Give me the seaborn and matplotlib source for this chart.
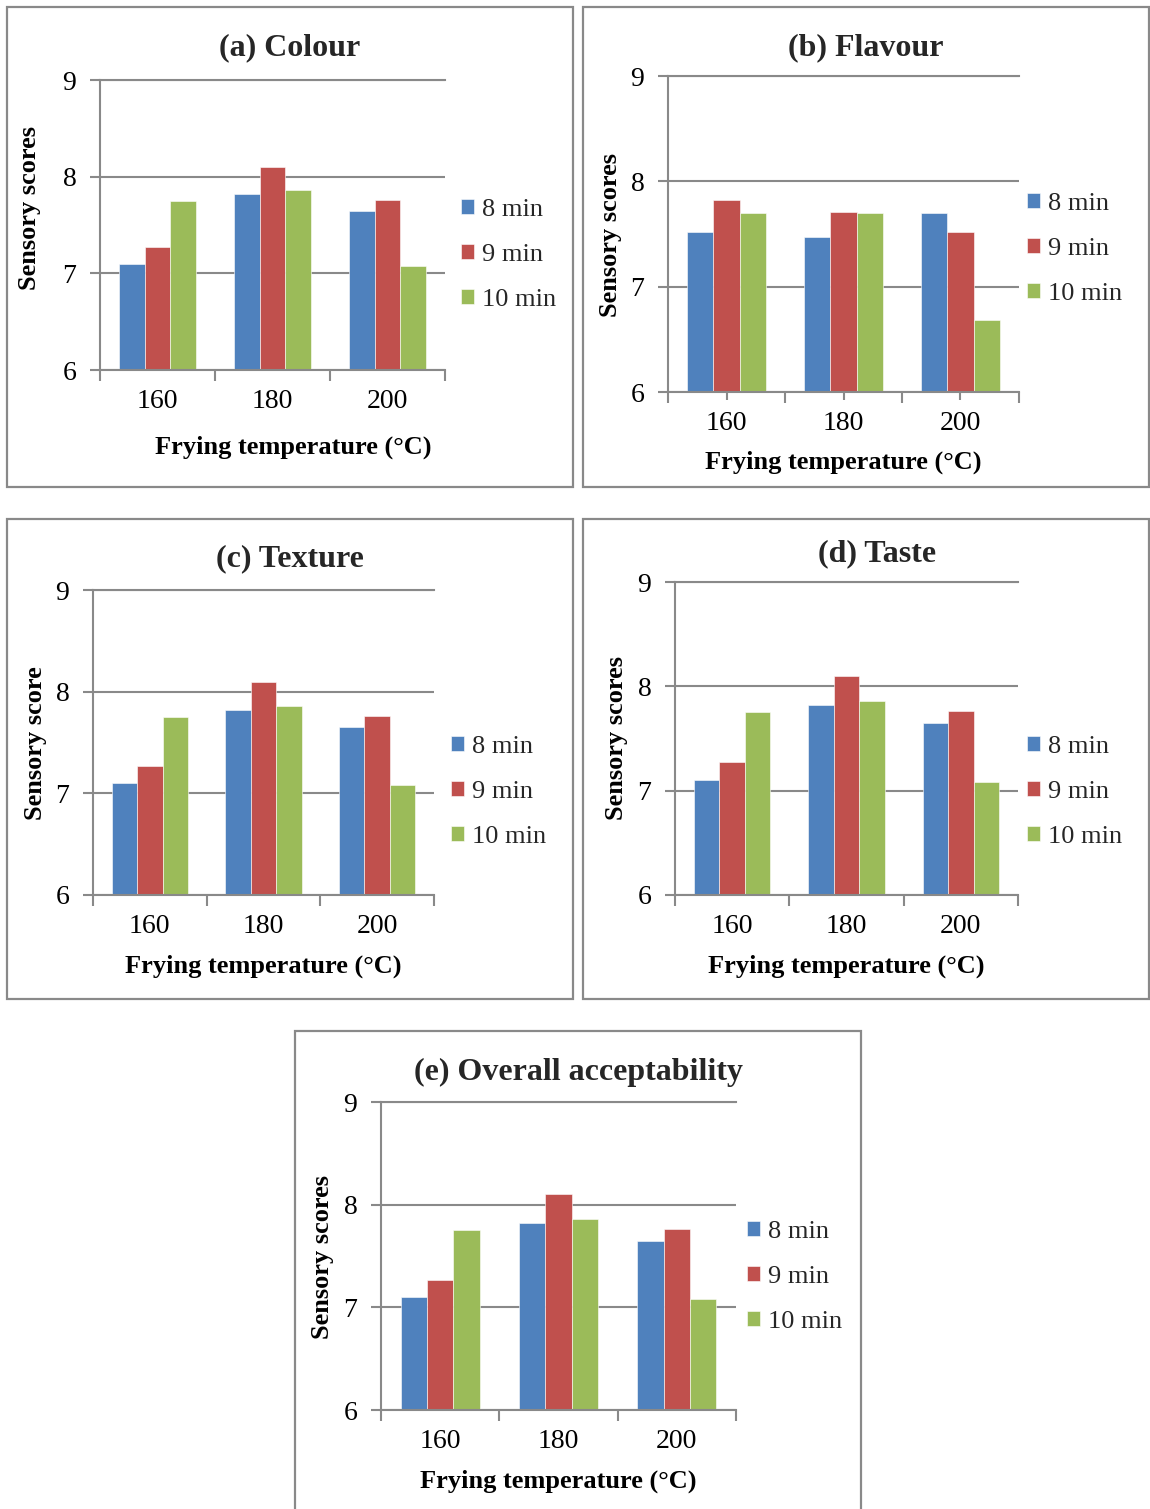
import matplotlib
matplotlib.use("Agg")
import matplotlib.pyplot as plt
from matplotlib.patches import Rectangle
from matplotlib.ticker import FixedLocator
import pandas as pd
import seaborn as sns

# Frying conditions
temperatures = ["160", "180", "200"]
times = ["8 min", "9 min", "10 min"]

# Mean sensory scores per frying time, ordered by temperature
colour_8 = [7.10, 7.82, 7.65]
colour_9 = [7.27, 8.10, 7.76]
colour_10 = [7.75, 7.86, 7.08]

flavour_8 = [7.52, 7.47, 7.70]
flavour_9 = [7.82, 7.71, 7.52]
flavour_10 = [7.70, 7.70, 6.68]

texture_8 = [7.10, 7.82, 7.65]
texture_9 = [7.27, 8.10, 7.76]
texture_10 = [7.75, 7.86, 7.08]

taste_8 = [7.10, 7.82, 7.65]
taste_9 = [7.27, 8.10, 7.76]
taste_10 = [7.75, 7.86, 7.08]

overall_8 = [7.10, 7.82, 7.65]
overall_9 = [7.27, 8.10, 7.76]
overall_10 = [7.75, 7.86, 7.08]

y_ticks = [6, 7, 8, 9]

palette = ["#4F81BD", "#C0504D", "#9BBB59"]
GRAY = "#898989"
FONT = "Liberation Serif"
TICK_FS = 20
LABEL_FS = 19
LEGEND_FS = 19
TITLE_FS = 23

sns.set_theme(style="white")
plt.rcParams["font.family"] = [FONT, "DejaVu Serif"]

W, H = 1150, 1509
fig = plt.figure(figsize=(W / 100, H / 100), dpi=100)


def fx(px):
    return px / W


def fy(py):
    return 1 - py / H


def long_table(s8, s9, s10):
    rows = []
    for t, series in zip(times, [s8, s9, s10]):
        for temp, v in zip(temperatures, series):
            rows.append({"Temperature": temp, "Time": t, "Score": v})
    return pd.DataFrame(rows)


# Each panel: box, axes rect, title, label positions, legend anchor
panels = [
    dict(data=(colour_8, colour_9, colour_10), title="(a) Colour", ylabel="Sensory scores",
         box=(7, 7, 573, 487), ax=(100, 80, 445, 370), title_xy=(290, 48),
         xlabel_xy=(293, 447), ylabel_xy=(30, 208), legend_xy=(461, 255), center_ticks=False),
    dict(data=(flavour_8, flavour_9, flavour_10), title="(b) Flavour", ylabel="Sensory scores",
         box=(583, 7, 1149, 487), ax=(668, 76, 1019, 392), title_xy=(866, 48),
         xlabel_xy=(843, 462), ylabel_xy=(610, 235), legend_xy=(1027, 249), center_ticks=True),
    dict(data=(texture_8, texture_9, texture_10), title="(c) Texture", ylabel="Sensory score",
         box=(7, 519, 573, 999), ax=(93, 590, 434, 895), title_xy=(290, 559),
         xlabel_xy=(263, 966), ylabel_xy=(36, 743), legend_xy=(451, 792), center_ticks=False),
    dict(data=(taste_8, taste_9, taste_10), title="(d) Taste", ylabel="Sensory scores",
         box=(583, 519, 1149, 999), ax=(675, 582, 1018, 895), title_xy=(877, 554),
         xlabel_xy=(846, 966), ylabel_xy=(617, 738), legend_xy=(1027, 792), center_ticks=False),
    dict(data=(overall_8, overall_9, overall_10), title="(e) Overall acceptability", ylabel="Sensory scores",
         box=(295, 1031, 861, 1520), ax=(381, 1102, 736, 1410), title_xy=(578, 1072),
         xlabel_xy=(558, 1481), ylabel_xy=(323, 1257), legend_xy=(747, 1277), center_ticks=False),
]

for p in panels:
    bx0, by0, bx1, by1 = p["box"]
    fig.add_artist(Rectangle((fx(bx0), fy(by1)), fx(bx1 - bx0), (by1 - by0) / H,
                             transform=fig.transFigure, fill=False, edgecolor=GRAY, lw=1.6))

    l, t, r, b = p["ax"]
    ax = fig.add_axes([fx(l), fy(b), fx(r - l), (b - t) / H])
    df = long_table(*p["data"])
    sns.barplot(data=df, x="Temperature", y="Score", hue="Time", order=temperatures,
                hue_order=times, palette=palette, width=0.67, errorbar=None,
                edgecolor="white", linewidth=0.4, saturation=1, ax=ax)

    ax.set_ylim(6, 9)
    ax.set_xlim(-0.5, 2.5)
    ax.set_yticks(y_ticks)
    ax.set_yticklabels([str(v) for v in y_ticks])
    ax.set_axisbelow(True)
    ax.yaxis.grid(True, color=GRAY, lw=1.5)
    ax.xaxis.grid(False)
    for side in ["left", "bottom", "top"]:
        ax.spines[side].set_color(GRAY)
        ax.spines[side].set_linewidth(1.5)
    ax.spines["right"].set_visible(False)

    ax.tick_params(axis="y", direction="out", length=7, width=1.5, color=GRAY,
                   labelsize=TICK_FS, pad=10, left=True)
    ax.xaxis.set_minor_locator(FixedLocator([-0.5, 0.5, 1.5, 2.5]))
    ax.tick_params(axis="x", which="minor", direction="out", length=8, width=1.5,
                   color=GRAY, bottom=True)
    if p["center_ticks"]:
        ax.tick_params(axis="x", which="major", direction="inout", length=12, width=1.5,
                       color=GRAY, labelsize=TICK_FS, pad=8, bottom=True)
    else:
        ax.tick_params(axis="x", which="major", length=0, labelsize=TICK_FS, pad=14)
    for lab in ax.get_xticklabels() + ax.get_yticklabels():
        lab.set_fontfamily(FONT)
        lab.set_color("black")

    ax.set_xlabel("Frying temperature (°C)", fontsize=LABEL_FS, fontweight="bold",
                  fontfamily=FONT, color="black")
    ax.xaxis.set_label_coords(fx(p["xlabel_xy"][0]), fy(p["xlabel_xy"][1]),
                              transform=fig.transFigure)
    ax.xaxis.label.set_verticalalignment("center")
    ax.set_ylabel(p["ylabel"], fontsize=LABEL_FS, fontweight="bold", fontfamily=FONT,
                  color="black")
    ax.yaxis.set_label_coords(fx(p["ylabel_xy"][0]), fy(p["ylabel_xy"][1]),
                              transform=fig.transFigure)
    ax.yaxis.label.set_verticalalignment("center")

    fig.text(fx(p["title_xy"][0]), fy(p["title_xy"][1]), p["title"], ha="center",
             va="center", fontsize=TITLE_FS, fontweight="bold", fontfamily=FONT)

    handles, labels = ax.get_legend_handles_labels()
    ax.legend(handles, labels, loc="center left",
              bbox_to_anchor=(fx(p["legend_xy"][0]), fy(p["legend_xy"][1])),
              bbox_transform=fig.transFigure, frameon=False,
              handlelength=0.5, handleheight=0.5, handletextpad=0.3,
              labelspacing=0.86, borderpad=0, borderaxespad=0,
              prop={"family": FONT, "size": LEGEND_FS})

fig.savefig("out.png", dpi=100, facecolor="white")
